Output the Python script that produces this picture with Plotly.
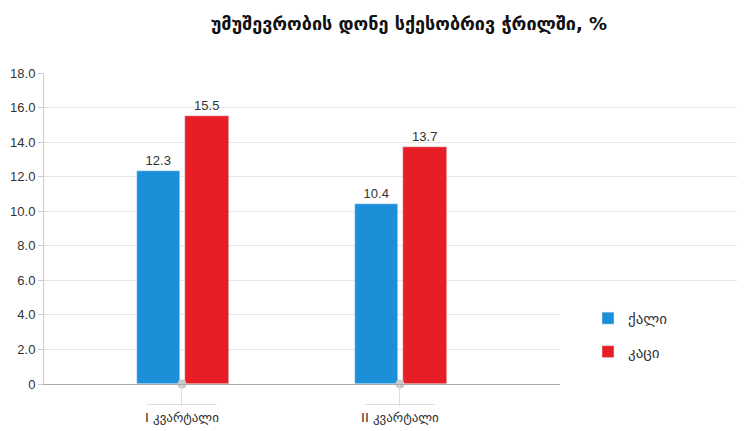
import plotly.graph_objects as go

categories = ["I კვარტალი", "II კვარტალი"]
women = [12.3, 10.4]
men = [15.5, 13.7]
series_names = ["ქალი", "კაცი"]
y_ticks = [0, 2, 4, 6, 8, 10, 12, 14, 16, 18]
y_ticktext = ["0", "2.0", "4.0", "6.0", "8.0", "10.0", "12.0", "14.0", "16.0", "18.0"]
title_text = "უმუშევრობის დონე სქესობრივ ჭრილში, %"

BLUE = "#1b8fd8"
RED = "#e81e26"
FONT = "Liberation Sans, Arial, sans-serif"
GEO = "DejaVu Sans, sans-serif"

xpos = list(range(len(categories)))

fig = go.Figure()
fig.add_trace(go.Bar(
    x=xpos, y=women, name=series_names[0], marker_color=BLUE,
    width=0.195, offset=-0.206,
    text=[f"{v:.1f}" for v in women], textposition="outside",
    textfont=dict(size=13, color="#333333", family=FONT),
    cliponaxis=False, legendgroup="a",
))
fig.add_trace(go.Bar(
    x=xpos, y=men, name=series_names[1], marker_color=RED,
    width=0.2, offset=0.015,
    text=[f"{v:.1f}" for v in men], textposition="outside",
    textfont=dict(size=13, color="#333333", family=FONT),
    cliponaxis=False, legendgroup="b",
))
# category markers on axis
fig.add_trace(go.Scatter(
    x=xpos, y=[0] * len(xpos), mode="markers",
    marker=dict(size=9, color="#c8c8c8"), showlegend=False,
    hoverinfo="skip", cliponaxis=False,
))

shapes = []
for xp in xpos:
    shapes.append(dict(type="line", xref="x", yref="paper",
                       x0=xp - 0.16, x1=xp + 0.16, y0=-0.066, y1=-0.066,
                       line=dict(color="#dddddd", width=1)))
# white box behind legend
shapes.append(dict(type="rect", xref="paper", yref="paper",
                   x0=0.736, x1=1.0, y0=-0.2, y1=0.288,
                   fillcolor="white", line=dict(width=0), layer="above"))

fig.update_layout(
    width=737, height=423,
    margin=dict(l=36, r=0, t=65, b=47),
    paper_bgcolor="white", plot_bgcolor="white",
    title=dict(text=f"<b>{title_text}</b>", x=0.544, xref="container", xanchor="center",
               y=0.962, yanchor="middle",
               font=dict(size=18, color="#111111", family=GEO)),
    shapes=shapes,
    showlegend=True,
    legend=dict(x=0.776, y=0.264, xanchor="left", yanchor="top",
                bgcolor="rgba(0,0,0,0)", traceorder="grouped", tracegroupgap=11,
                font=dict(size=15, color="#333333", family=GEO)),
    bargap=0,
)
fig.update_xaxes(
    range=[-0.633, 2.583], tickvals=xpos, ticktext=categories,
    showgrid=False, zeroline=False, automargin=False,
    showline=True, linecolor="#aaaaaa", linewidth=1,
    ticks="outside", ticklen=21, tickcolor="#dddddd",
    tickfont=dict(size=13, color="#333333", family=GEO),
)
fig.update_yaxes(
    range=[0, 18], tickvals=y_ticks, ticktext=y_ticktext,
    showgrid=True, gridcolor="#e6e6e6", zeroline=False, automargin=False,
    showline=True, linecolor="#cccccc", linewidth=1,
    ticks="outside", ticklen=5, tickcolor="#cccccc",
    tickfont=dict(size=13, color="#333333", family=FONT),
)

fig.write_html("out.html")
